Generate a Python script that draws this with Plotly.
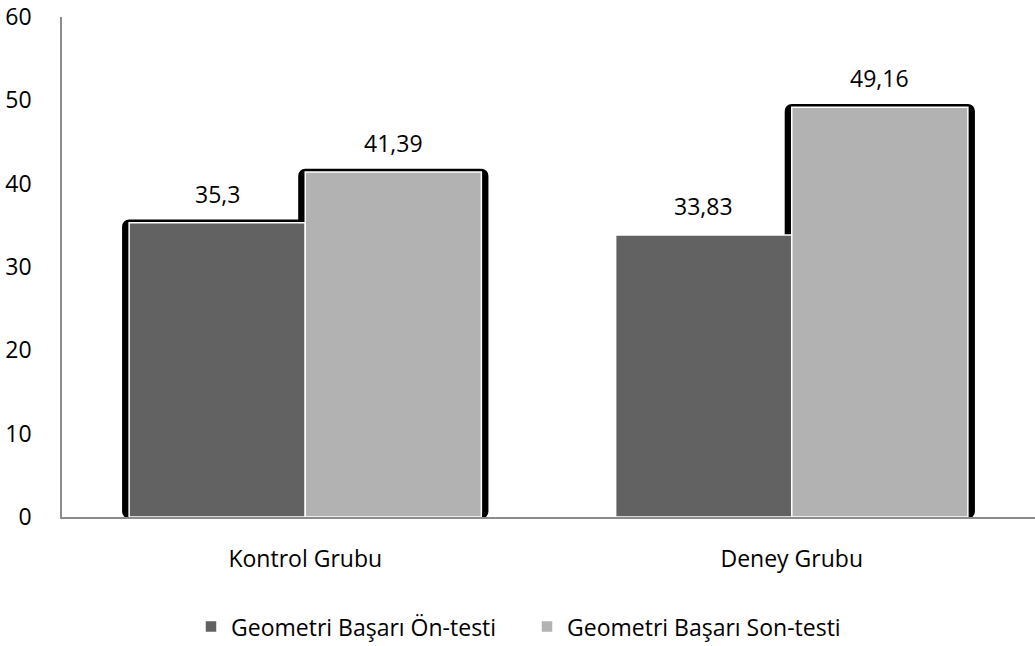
import plotly.graph_objects as go

# Group means for the geometry achievement test
groups = ["Kontrol Grubu", "Deney Grubu"]
series_names = ["Geometri Başarı Ön-testi", "Geometri Başarı Son-testi"]
pre_test = [35.3, 33.83]
post_test = [41.39, 49.16]
# which bars carry the dark rounded frame behind them
pre_framed = [True, False]
post_framed = [True, True]

y_ticks = [0, 10, 20, 30, 40, 50, 60]

DARK = "#626262"
LIGHT = "#b2b2b2"
AXIS = "#8c8c8c"
FONT = "Open Sans"
FSIZE = 23

bar_w = 0.362      # width of each bar in category units
frame_x = 0.0145   # horizontal overhang of the frame
frame_y = 0.6      # vertical overhang of the frame


def fmt(v):
    return f"{v:g}".replace(".", ",")


xs = list(range(len(groups)))
fig = go.Figure()

# dark frames, drawn first so they sit behind the bars
for vals, framed, off in [(pre_test, pre_framed, -bar_w), (post_test, post_framed, 0.0)]:
    fig.add_trace(go.Bar(
        x=xs, y=[v + frame_y for v in vals], base=[-0.2] * len(vals),
        width=bar_w + 2 * frame_x, offset=off - frame_x,
        marker=dict(color=["#000000" if f else "rgba(0,0,0,0)" for f in framed],
                    line=dict(width=0), cornerradius=7),
        showlegend=False, hoverinfo="skip",
    ))

for name, vals, color, off in [(series_names[0], pre_test, DARK, -bar_w),
                               (series_names[1], post_test, LIGHT, 0.0)]:
    fig.add_trace(go.Bar(
        x=xs, y=vals, name=name, width=bar_w, offset=off,
        marker=dict(color=color, line=dict(color="white", width=1.5)),
    ))
    for i, v in enumerate(vals):
        fig.add_annotation(
            x=i + off + bar_w / 2, y=v, text=fmt(v), showarrow=False,
            xref="x", yref="y", yanchor="bottom", yshift=11,
            font=dict(family=FONT, size=FSIZE, color="#000000"),
        )

fig.update_layout(
    width=1035, height=646,
    margin=dict(l=62, r=0, t=17, b=129),
    paper_bgcolor="white", plot_bgcolor="white",
    barmode="overlay",
    font=dict(family=FONT, size=FSIZE, color="#000000"),
    showlegend=True,
    legend=dict(orientation="h", xref="container", x=191 / 1035, xanchor="left",
                yref="container", y=0.03, yanchor="middle",
                font=dict(family=FONT, size=FSIZE, color="#000000"),
                itemwidth=30, traceorder="normal",
                entrywidth=291, entrywidthmode="pixels"),
    xaxis=dict(
        tickmode="array", tickvals=xs, ticktext=groups,
        range=[-0.5, len(groups) - 0.5],
        showline=True, linecolor=AXIS, linewidth=1.5,
        showgrid=False, zeroline=False, ticks="", ticklabelstandoff=21,
        fixedrange=True,
    ),
    yaxis=dict(
        range=[0, 60], tickmode="array", tickvals=y_ticks,
        ticktext=[str(t) for t in y_ticks],
        showline=True, linecolor=AXIS, linewidth=1.5,
        showgrid=False, zeroline=False, ticks="", ticklabelstandoff=24,
        fixedrange=True,
    ),
)

fig.write_html("out.html")
